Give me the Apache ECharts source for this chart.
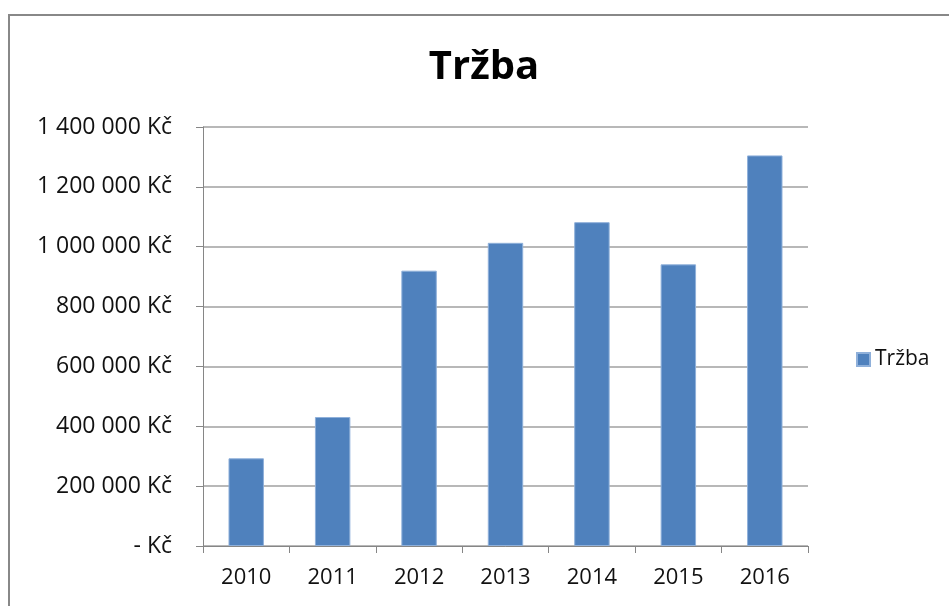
<!DOCTYPE html>
<html>
<head>
<meta charset="utf-8">
<script src="https://cdn.jsdelivr.net/npm/echarts@6/dist/echarts.min.js"></script>
<style>
html,body{margin:0;padding:0;background:#fff;}
#chart{width:949px;height:606px;}
</style>
</head>
<body>
<div id="chart"></div>
<script>
const categories = ['2010','2011','2012','2013','2014','2015','2016'];
const seriesName = 'Tržba';
const values = [293000, 431000, 920000, 1013000, 1082000, 941000, 1305000];
const chartTitle = 'Tržba';

function fmt(v){
  if (v === 0) return '- Kč';
  return String(v).replace(/\B(?=(\d{3})+(?!\d))/g, ' ') + ' Kč';
}

const chart = echarts.init(document.getElementById('chart'), null, {renderer:'canvas'});
chart.setOption({
  animation: false,
  backgroundColor: '#fff',
  title: {
    text: chartTitle, left: 479, top: 43, textAlign: 'center',
    textStyle: {fontFamily: 'Open Sans', fontWeight: 'bold', fontSize: 40, color: '#000'}
  },
  legend: {
    data: [seriesName], left: 851, top: 344, orient: 'vertical',
    itemWidth: 13, itemHeight: 13, itemGap: 5, icon: 'rect',
    textStyle: {fontFamily: 'Open Sans', fontSize: 21, color: '#111', padding: [0, 0, 0, 0]}
  },
  graphic: [{
    type: 'rect', shape: {x: 9, y: 15, width: 960, height: 620},
    style: {fill: 'none', stroke: '#888', lineWidth: 2}, silent: true
  }],
  grid: {left: 203, right: 141, top: 127, bottom: 60, containLabel: false},
  xAxis: {
    type: 'category', data: categories,
    axisLine: {lineStyle: {color: '#868686', width: 1}},
    axisTick: {show: true, length: 7, alignWithLabel: false, lineStyle: {color: '#868686'}},
    axisLabel: {fontFamily: 'Open Sans', fontSize: 22, color: '#111', margin: 21}
  },
  yAxis: {
    type: 'value', min: 0, max: 1400000, interval: 200000,
    axisLine: {show: true, lineStyle: {color: '#868686', width: 1}},
    axisTick: {show: true, length: 7, lineStyle: {color: '#868686'}},
    splitLine: {lineStyle: {color: '#a0a0a0', width: 1.5}},
    axisLabel: {fontFamily: 'Open Sans', fontSize: 23, color: '#111', margin: 31, formatter: fmt}
  },
  series: [{
    name: seriesName, type: 'bar', data: values, barWidth: '41%',
    itemStyle: {color: '#4F81BD', borderColor: '#8FB0DA', borderWidth: 1}
  }]
});
</script>
</body>
</html>
